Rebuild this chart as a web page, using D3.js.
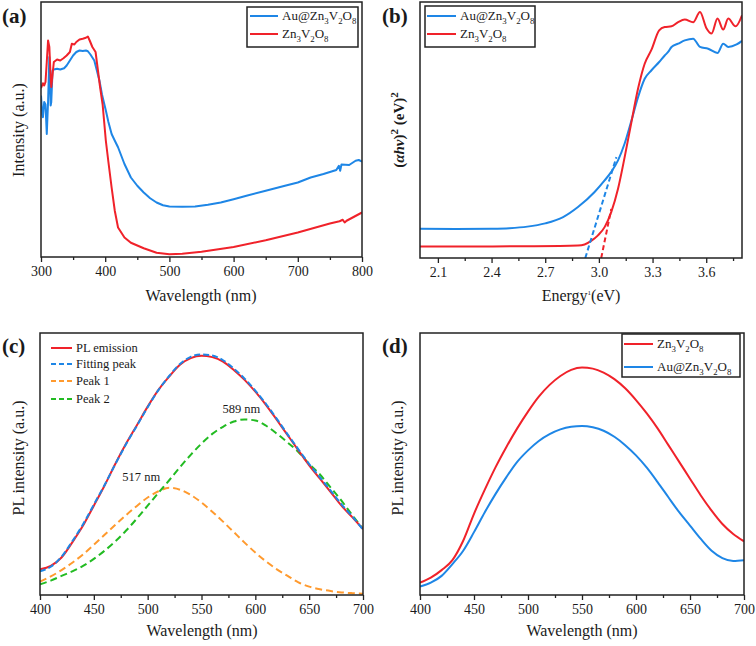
<!DOCTYPE html>
<html><head><meta charset="utf-8">
<script src="https://cdn.jsdelivr.net/npm/d3@7"></script>
<style>
body{margin:0;background:#fff}
svg{display:block}
</style>
</head><body><svg id="chart" width="756" height="646"></svg>
<script>
// ---------- Panel (a): UV-vis absorbance ----------
const aAuX = [300,302,303,305,307,309,311,313,315,316,318,320,325,330,336,340,345,350,355,360,365,370,373,377,383,391,395,401,405,410,415,420,430,440,450,460,470,480,490,500,520,540,560,580,600,620,650,680,700,720,740,760,764,766,768,780,790,795,800];
const aAuY = [64.6,57,55.9,62,61,49.2,62,80,60.6,62,74.6,75,75.3,75,75.5,76.6,78.6,80.6,82,82.6,82.4,82.6,82.3,81,78.6,70.6,65,58.6,54,49.2,46.5,43.9,37.2,31.8,28.5,25.8,23.5,21.8,20.7,20.2,20.1,20.2,20.9,21.8,23.1,24.5,26.5,28.5,29.8,31.8,33.2,34.8,36.5,34.5,37,36.8,38.5,38.8,38.2];
const aZnX = [300,303,305,307,309,311,313,315,316,318,320,325,330,335,340,345,348,352,355,360,365,370,373,376,380,385,388,392,396,401,405,410,415,420,430,440,460,480,500,520,550,600,650,700,750,765,770,773,776,800];
const aZnY = [67.5,69.5,68.6,70,78,86.6,84,72,68,73,78,79,78.6,79.5,80.6,82,85.3,85,86,87,87.3,87.7,88.2,86.5,84,82,76,68,61,46.5,38,27.8,18.4,11.8,7.8,5.7,3.5,1.7,1.1,1.3,2.1,4.0,6.7,9.8,13.4,14.3,14.9,13.8,14.5,17.8];
const aTicks = [300,400,500,600,700,800];
const aMinor = [350,450,550,650,750];

// ---------- Panel (b): Tauc plot ----------
const bAuE = [2.0,2.2,2.4,2.5,2.6,2.7,2.8,2.883,2.976,3.032,3.069,3.107,3.144,3.182,3.219,3.256,3.294,3.337,3.368,3.387,3.406,3.443,3.480,3.527,3.565,3.611,3.663,3.695,3.723,3.770,3.8];
const bAuY = [11.7,11.6,11.7,11.9,12.5,13.8,16.3,20.3,26.3,30.9,34.3,38.9,45.6,54.8,64.1,71.4,74.8,78.1,80.7,82.1,84.1,85.4,86.7,87.4,84.1,83.4,81.7,85.4,84.1,85.1,86.5];
const bZnE = [2.0,2.3,2.6,2.883,2.920,2.957,2.995,3.032,3.069,3.107,3.144,3.182,3.219,3.256,3.294,3.337,3.368,3.406,3.443,3.480,3.527,3.565,3.602,3.630,3.663,3.695,3.723,3.764,3.8];
const bZnY = [4.6,4.6,4.7,5.0,5.4,6.8,9.0,12.3,18.3,27.6,40.2,54.2,67.5,77.4,83.0,90.7,92.0,92.3,94.0,95.0,93.9,98.0,91.4,89.4,95.4,91.0,95.4,92.3,96.7];
const bAuFitE = [2.924,3.098];
const bAuFitY = [0,40.2];
const bZnFitE = [3.013,3.069];
const bZnFitY = [0,19.5];
const bTicks = [2.1,2.4,2.7,3.0,3.3,3.6];
const bMinor = [2.25,2.55,2.85,3.15,3.45,3.75];

// ---------- Panel (c): PL peak fitting ----------
const cX = [400,410,420,430,440,450,460,470,480,490,500,510,520,530,540,550,560,570,580,590,600,610,620,630,640,650,660,670,680,690,700];
const cPL = [9.8,11.1,14.3,20.1,26.5,34.1,41.8,50.1,57.8,64.8,71.9,78.3,83.4,87.9,90.4,91.3,90.8,89.1,85.9,82.1,77.6,72.5,66.8,61.0,55.2,49.5,44.4,39.3,34.1,29.7,25.2];
const cFit = [9.0,10.8,14.6,20.5,27.0,34.5,42.0,50.0,57.6,64.6,71.7,78.2,83.6,88.2,90.9,91.8,91.4,89.6,86.4,82.6,78.0,72.9,67.2,61.3,55.6,50.0,44.9,39.8,34.6,30.0,25.0];
const cPeak1 = [5.1,7.1,9.5,12.3,15.5,19.2,23.0,26.8,30.5,34.0,37.2,39.6,40.9,40.2,38.2,35.3,31.8,28.0,24.0,20.0,16.2,12.8,9.8,7.3,4.8,3.2,2.2,1.5,1.0,0.7,0.5];
const cPeak2 = [4.1,5.5,7.3,9.0,11.1,13.8,16.9,20.5,24.6,29.2,34.1,39.0,43.8,48.8,53.5,57.8,61.5,64.2,66.2,67.0,66.6,64.6,61.6,58.2,54.6,50.0,46.0,41.0,36.0,30.5,25.2];
const cPeakLabels = ["517 nm","589 nm"];
const cPeakPos = [494,587];
const cPeakLabelY = [43.5,69.5];
const cTicks = [400,450,500,550,600,650,700];
const cMinor = [425,475,525,575,625,675];

// ---------- Panel (d): PL comparison ----------
const dX = cX;
const dZn = [4.7,6.6,9.5,13.3,20.7,31.0,40.2,48.8,56.5,63.6,70.0,75.7,80.2,83.6,85.9,86.8,86.4,84.9,82.4,78.9,74.4,69.3,63.6,57.2,50.8,44.4,38.0,32.2,27.1,23.3,20.5];
const dAu = [3.2,4.7,7.3,11.8,16.9,24.0,31.6,38.6,45.0,50.8,55.2,58.8,61.4,63.2,64.2,64.5,64.0,62.7,60.4,57.2,53.3,48.6,43.1,37.3,31.6,26.5,21.4,16.9,14.1,13.0,13.3];

const FONT = '"Liberation Serif","Times New Roman",Times,serif';
const RED = "#f0222a", BLUE = "#1e86e6", ORANGE = "#ff9a2e", GREEN = "#22bb22";
const AU = [["Au@Zn",0],["3",1],["V",0],["2",1],["O",0],["8",1]];
const ZN = [["Zn",0],["3",1],["V",0],["2",1],["O",0],["8",1]];

const svg = d3.select("#chart");
let clipId = 0;

function txt(parent) {
  return parent.append("text").style("font-family", FONT).attr("fill", "#1a1a1a");
}

function panel(o) {
  const x = d3.scaleLinear().domain(o.xd).range([o.l, o.r]);
  const y = d3.scaleLinear().domain(o.yd).range([o.b, o.t]);
  const g = svg.append("g");
  const ax = g.append("g").attr("transform", `translate(0,${o.b})`)
    .call(d3.axisBottom(x).tickValues(o.ticks).tickSize(5).tickPadding(4).tickFormat(o.fmt));
  ax.select(".domain").remove();
  ax.selectAll("line").attr("stroke", "#222").attr("stroke-width", 1.3);
  ax.selectAll("text").attr("font-size", 14).attr("fill", "#1a1a1a").style("font-family", FONT);
  const mn = g.append("g").attr("transform", `translate(0,${o.b})`)
    .call(d3.axisBottom(x).tickValues(o.minor).tickSize(3).tickFormat(""));
  mn.select(".domain").remove();
  mn.selectAll("line").attr("stroke", "#222").attr("stroke-width", 1.3);
  const id = "clip" + (clipId++);
  g.append("clipPath").attr("id", id).append("rect")
    .attr("x", o.l).attr("y", o.t).attr("width", o.r - o.l).attr("height", o.b - o.t);
  const plot = g.append("g").attr("clip-path", `url(#${id})`);
  g.append("rect").attr("x", o.l).attr("y", o.t).attr("width", o.r - o.l).attr("height", o.b - o.t)
    .attr("fill", "none").attr("stroke", "#222").attr("stroke-width", 1.5);
  return {x, y, g, plot};
}

function drawLine(p, xs, ys, color, dash, curve) {
  const pts = xs.map((v, i) => [v, ys[i]]);
  const line = d3.line().x(d => p.x(d[0])).y(d => p.y(d[1])).curve(curve || d3.curveLinear);
  p.plot.append("path").datum(pts).attr("d", line).attr("fill", "none")
    .attr("stroke", color).attr("stroke-width", 2).attr("stroke-dasharray", dash || null)
    .attr("stroke-linejoin", "round");
}

function chem(sel, parts, size) {
  parts.forEach(([t, s], i) => {
    const prev = i > 0 ? parts[i - 1][1] : 0;
    const ts = sel.append("tspan").text(t);
    if (s) ts.attr("font-size", size * 0.68).attr("dy", size * 0.28);
    else { ts.attr("font-size", size); if (prev) ts.attr("dy", -size * 0.28); }
  });
}

function legend(g, box, rows, size) {
  if (box) g.append("rect").attr("x", box[0]).attr("y", box[1]).attr("width", box[2] - box[0])
    .attr("height", box[3] - box[1]).attr("fill", "#fff").attr("stroke", "#222").attr("stroke-width", 1.5);
  rows.forEach(r => {
    g.append("line").attr("x1", r.x1).attr("x2", r.x2).attr("y1", r.y).attr("y2", r.y)
      .attr("stroke", r.color).attr("stroke-width", 2).attr("stroke-dasharray", r.dash || null);
    const t = txt(g).attr("x", r.x2 + 4).attr("y", r.y + size * 0.33).attr("font-size", size);
    if (Array.isArray(r.label)) chem(t, r.label, size); else t.text(r.label);
  });
}

function ytitle(x, y, content) {
  const t = txt(svg).attr("transform", `translate(${x},${y}) rotate(-90)`)
    .attr("text-anchor", "middle").attr("font-size", 16);
  if (typeof content === "string") t.text(content); else content(t);
  return t;
}
function xtitle(x, y, s) {
  return txt(svg).attr("x", x).attr("y", y).attr("text-anchor", "middle").attr("font-size", 16).text(s);
}
function plabel(x, y, s) {
  txt(svg).attr("x", x).attr("y", y).attr("font-size", 21).attr("font-weight", "bold").text(s);
}

// ---- (a)
const pa = panel({l: 41, r: 362, t: 2, b: 257, xd: [300, 800], yd: [0, 102], ticks: aTicks, minor: aMinor, fmt: d3.format("d")});
drawLine(pa, aAuX, aAuY, BLUE);
drawLine(pa, aZnX, aZnY, RED);
legend(pa.g, [247, 7, 358, 47], [
  {x1: 250, x2: 278, y: 16, color: BLUE, label: AU},
  {x1: 250, x2: 278, y: 34, color: RED, label: ZN}], 13);
xtitle(201, 301, "Wavelength (nm)");
ytitle(24, 130, "Intensity (a.u.)");
plabel(2, 23, "(a)");

// ---- (b)
const pb = panel({l: 420, r: 742, t: 2, b: 258, xd: [2.0, 3.8], yd: [0, 102], ticks: bTicks, minor: bMinor, fmt: d3.format(".1f")});
drawLine(pb, bAuE, bAuY, BLUE, null, d3.curveMonotoneX);
drawLine(pb, bZnE, bZnY, RED, null, d3.curveMonotoneX);
drawLine(pb, bAuFitE, bAuFitY, BLUE, "5,3");
drawLine(pb, bZnFitE, bZnFitY, RED, "5,3");
legend(pb.g, [425, 6, 535, 47], [
  {x1: 427, x2: 456, y: 16, color: BLUE, label: AU},
  {x1: 427, x2: 456, y: 34, color: RED, label: ZN}], 13);
{
  const t = txt(svg).attr("x", 581).attr("y", 301).attr("text-anchor", "middle").attr("font-size", 16);
  t.append("tspan").text("Energy");
  t.append("tspan").attr("font-size", 7).attr("dy", -6).text("1");
  t.append("tspan").attr("dy", 6).text("(eV)");
}
ytitle(404, 130, t => {
  t.attr("font-weight", "bold").attr("font-size", 15);
  t.append("tspan").text("(");
  t.append("tspan").attr("font-style", "italic").text("αhν");
  t.append("tspan").text(")");
  t.append("tspan").attr("dy", -6).attr("font-size", 11).text("2");
  t.append("tspan").attr("dy", 6).text(" (eV)");
  t.append("tspan").attr("dy", -6).attr("font-size", 11).text("2");
});
plabel(382, 23, "(b)");

// ---- (c)
const pc = panel({l: 40, r: 363, t: 333, b: 595, xd: [400, 700], yd: [0, 100], ticks: cTicks, minor: cMinor, fmt: d3.format("d")});
drawLine(pc, cX, cPeak1, ORANGE, "7,4", d3.curveMonotoneX);
drawLine(pc, cX, cPeak2, GREEN, "7,4", d3.curveMonotoneX);
drawLine(pc, cX, cPL, RED, null, d3.curveMonotoneX);
drawLine(pc, cX, cFit, BLUE, "6,3", d3.curveMonotoneX);
cPeakLabels.forEach((s, i) => {
  txt(pc.g).attr("x", pc.x(cPeakPos[i])).attr("y", pc.y(cPeakLabelY[i])).attr("text-anchor", "middle")
    .attr("font-size", 12.5).text(s);
});
legend(pc.g, null, [
  {x1: 51, x2: 72, y: 348, color: RED, label: "PL emission"},
  {x1: 51, x2: 72, y: 364, color: BLUE, dash: "5,3", label: "Fitting peak"},
  {x1: 51, x2: 72, y: 381, color: ORANGE, dash: "5,3", label: "Peak 1"},
  {x1: 51, x2: 72, y: 399, color: GREEN, dash: "5,3", label: "Peak 2"}], 12.5);
xtitle(202, 636, "Wavelength (nm)");
ytitle(24, 458, "PL intensity (a.u.)");
plabel(2, 353, "(c)");

// ---- (d)
const pd = panel({l: 420, r: 744, t: 333, b: 595, xd: [400, 700], yd: [0, 100], ticks: cTicks, minor: cMinor, fmt: d3.format("d")});
drawLine(pd, dX, dZn, RED, null, d3.curveMonotoneX);
drawLine(pd, dX, dAu, BLUE, null, d3.curveMonotoneX);
legend(pd.g, [622, 334, 740, 377], [
  {x1: 624, x2: 653, y: 344, color: RED, label: ZN},
  {x1: 624, x2: 653, y: 367, color: BLUE, label: AU}], 13);
xtitle(582, 636, "Wavelength (nm)");
ytitle(403, 458, "PL intensity (a.u.)");
plabel(382, 353, "(d)");
</script></body></html>
